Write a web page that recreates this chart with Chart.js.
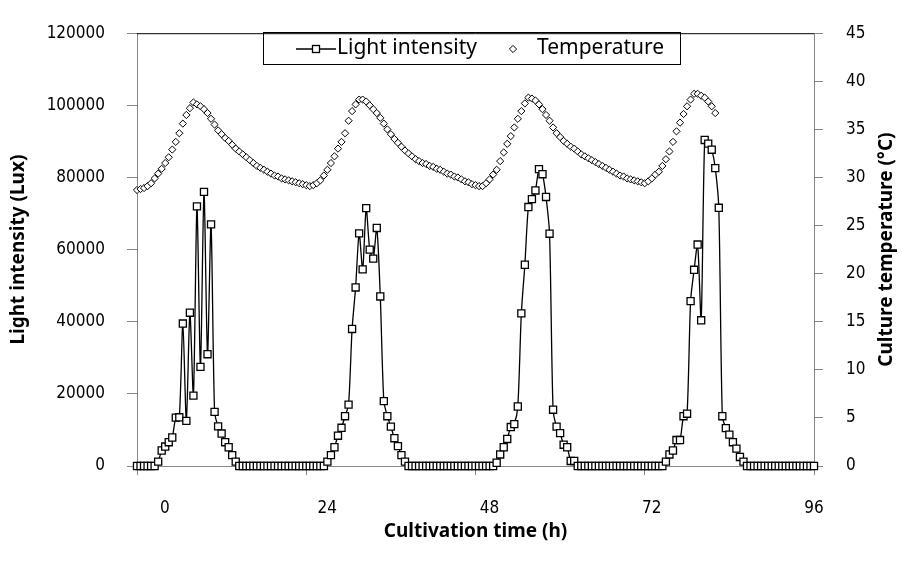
<!DOCTYPE html>
<html>
<head>
<meta charset="utf-8">
<script src="https://cdn.jsdelivr.net/npm/chart.js@4.4.1/dist/chart.umd.min.js"></script>
<style>
  html, body { margin: 0; padding: 0; background: #fff; }
  #wrap { width: 902px; height: 576px; }
</style>
</head>
<body>
<div id="wrap"><canvas id="chart" width="902" height="576"></canvas></div>
<script>
// sampling every 0.5 h from 0 to 96 h
const hours = Array.from({ length: 193 }, (_, i) => i * 0.5);

// light intensity (Lux), one value per half hour
const lightLux = [
  0, 0, 0, 0, 0, 0,
  1200, 4300, 5400, 6600, 7900, 13400, 13500, 39500, 12500, 42500, 19500, 72000,
  27500, 76000, 31000, 67000, 15000, 11000, 9000, 6600, 5200, 3000, 1200,
  0, 0, 0, 0, 0, 0, 0, 0, 0, 0, 0, 0, 0, 0, 0, 0, 0, 0, 0, 0, 0, 0, 0, 0, 0,
  1200, 3000, 5200, 8400, 10600, 13800, 17000, 38000, 49500, 64500, 54500, 71500,
  60000, 57500, 66000, 47000, 18000, 13800, 10900, 7700, 5500, 3000, 1200,
  0, 0, 0, 0, 0, 0, 0, 0, 0, 0, 0, 0, 0, 0, 0, 0, 0, 0, 0, 0, 0, 0, 0, 0, 0,
  900, 3200, 5200, 7500, 10800, 11600, 16500, 42300, 55800, 71800, 74000, 76400,
  82300, 80900, 74600, 64400, 15600, 10900, 9100, 5900, 5200, 1400, 1400,
  0, 0, 0, 0, 0, 0, 0, 0, 0, 0, 0, 0, 0, 0, 0, 0, 0, 0, 0, 0, 0, 0, 0, 0, 0,
  1200, 3200, 4300, 7200, 7200, 13800, 14500, 45700, 54400, 61400, 40400, 90400,
  89400, 87700, 82600, 71600, 13800, 10500, 8700, 6600, 4800, 2500, 1200,
  0, 0, 0, 0, 0, 0, 0, 0, 0, 0, 0, 0, 0, 0, 0, 0, 0, 0, 0, 0
];

// culture temperature (°C), one value per half hour from 0 to 82 h
const temperature = [
  28.7, 28.8, 28.9, 29.1, 29.4, 29.9, 30.4, 30.9, 31.5, 32.1, 32.9, 33.7, 34.6, 35.6, 36.5, 37.2,
  37.8, 37.6, 37.4, 37.1, 36.7, 36.1, 35.5, 34.9, 34.5, 34.1, 33.8, 33.4, 33.0, 32.7, 32.4, 32.1,
  31.8, 31.5, 31.2, 31.0, 30.8, 30.6, 30.4, 30.2, 30.1, 29.9, 29.8, 29.7, 29.6, 29.5, 29.4, 29.3,
  29.2, 29.1,
  29.2, 29.4, 29.7, 30.2, 30.8, 31.5, 32.2, 33.0, 33.7, 34.6, 35.9, 36.9, 37.6, 38.1,
  38.1, 37.9, 37.5, 37.1, 36.7, 36.2, 35.6, 35.0, 34.5, 34.0, 33.6, 33.2, 32.8, 32.5, 32.2, 31.9,
  31.7, 31.5, 31.4, 31.2, 31.1, 30.9, 30.8, 30.6, 30.4, 30.3, 30.1, 30.0, 29.8, 29.6, 29.5, 29.3,
  29.2, 29.1, 29.1,
  29.4, 29.8, 30.3, 30.8, 31.7, 32.6, 33.5, 34.3, 35.2, 36.1, 36.9, 37.7, 38.3,
  38.2, 38.0, 37.6, 37.1, 36.5, 35.9, 35.2, 34.6, 34.2, 33.8, 33.5, 33.2, 33.0, 32.7, 32.4, 32.2,
  32.0, 31.8, 31.6, 31.4, 31.2, 31.0, 30.8, 30.6, 30.4, 30.2, 30.1, 29.9, 29.8, 29.7, 29.6, 29.5,
  29.4,
  29.6, 29.9, 30.3, 30.6, 31.2, 31.9, 32.7, 33.7, 34.8, 35.7, 36.6, 37.4, 38.1, 38.7, 38.7, 38.5,
  38.3, 37.9, 37.4, 36.7
];

const timeTicks = [0, 24, 48, 72, 96];
const luxTicks = [0, 20000, 40000, 60000, 80000, 100000, 120000];
const tempTicks = [0, 5, 10, 15, 20, 25, 30, 35, 40, 45];

const axisGray = "#868686";
const tickFont = { family: "'DejaVu Sans Condensed', 'DejaVu Sans', sans-serif", size: 17 };
const titleFont = { family: "'Noto Sans', sans-serif", size: 19, weight: "bold" };
const legendFont = "21px 'Noto Sans', sans-serif";

const extras = {
    id: "extras",
    afterDraw(chart) {
        const { ctx, chartArea } = chart;
        ctx.save();
        // top frame line
        ctx.strokeStyle = "#000";
        ctx.lineWidth = 1;
        ctx.beginPath();
        ctx.moveTo(chartArea.left, chartArea.top + 0.5);
        ctx.lineTo(chartArea.right, chartArea.top + 0.5);
        ctx.stroke();

        // right axis title, reading bottom to top
        ctx.fillStyle = "#000";
        ctx.font = "bold 19px 'Noto Sans', sans-serif";
        ctx.textAlign = "center";
        ctx.textBaseline = "middle";
        ctx.translate(887, (chartArea.top + chartArea.bottom) / 2);
        ctx.rotate(-Math.PI / 2);
        ctx.fillText("Culture temperature (°C)", 0, 0);
        ctx.restore();

        // legend box
        ctx.save();
        ctx.strokeStyle = "#000";
        ctx.lineWidth = 1;
        ctx.strokeRect(263.5, 32.5, 417, 32);
        const ly = 49;
        ctx.lineWidth = 1.3;
        ctx.beginPath();
        ctx.moveTo(296, ly);
        ctx.lineTo(336, ly);
        ctx.stroke();
        ctx.fillStyle = "#fff";
        ctx.fillRect(312.5, ly - 3.5, 7, 7);
        ctx.strokeRect(312.5, ly - 3.5, 7, 7);
        ctx.lineWidth = 1;
        ctx.beginPath();
        ctx.moveTo(513, ly - 3.6);
        ctx.lineTo(516.6, ly);
        ctx.lineTo(513, ly + 3.6);
        ctx.lineTo(509.4, ly);
        ctx.closePath();
        ctx.fill();
        ctx.stroke();
        ctx.fillStyle = "#000";
        ctx.font = legendFont;
        ctx.textAlign = "left";
        ctx.textBaseline = "middle";
        ctx.fillText("Light intensity", 337, ly - 1);
        ctx.fillText("Temperature", 537, ly - 1);
        ctx.restore();
    }
};

new Chart(document.getElementById("chart"), {
    type: "line",
    data: {
        datasets: [
            {
                label: "Light intensity",
                data: lightLux.map((v, i) => ({ x: hours[i], y: v })),
                yAxisID: "y",
                xAxisID: "x",
                borderColor: "#000",
                borderWidth: 1.3,
                tension: 0.25,
                pointStyle: "rect",
                pointRadius: 5,
                pointBorderWidth: 1.3,
                pointBorderColor: "#000",
                pointBackgroundColor: "#fff",
                clip: false
            },
            {
                label: "Temperature",
                data: temperature.map((v, i) => ({ x: hours[i], y: v })),
                yAxisID: "y1",
                xAxisID: "x",
                showLine: false,
                pointStyle: "rectRot",
                pointRadius: 3.6,
                pointBorderWidth: 1,
                pointBorderColor: "#000",
                pointBackgroundColor: "#fff",
                clip: false
            }
        ]
    },
    options: {
        responsive: false,
        animation: false,
        devicePixelRatio: 1,
        layout: { padding: { top: 23, left: 0, right: 0, bottom: 0 } },
        plugins: {
            legend: { display: false },
            tooltip: { enabled: false }
        },
        scales: {
            x: {
                type: "linear",
                position: "bottom",
                weight: 0,
                min: 0,
                max: 96,
                afterBuildTicks: s => { s.ticks = timeTicks.map(v => ({ value: v })); },
                ticks: { display: false },
                grid: { display: true, drawOnChartArea: false, drawTicks: true, tickLength: 9, color: axisGray },
                border: { display: true, color: axisGray, width: 1 },
                afterFit: s => { s.height = 9; }
            },
            xLabels: {
                type: "linear",
                position: "bottom",
                weight: 1,
                min: -4.14,
                max: 96,
                afterBuildTicks: s => { s.ticks = timeTicks.map(v => ({ value: v })); },
                ticks: { font: tickFont, color: "#000", padding: 15, maxRotation: 0, minRotation: 0, autoSkip: false },
                grid: { display: false },
                border: { display: false },
                title: {
                    display: true,
                    text: "Cultivation time (h)",
                    font: titleFont,
                    color: "#000",
                    padding: { top: 0, bottom: 33 }
                },
                afterFit: s => { s.height = 101; }
            },
            y: {
                type: "linear",
                position: "left",
                min: 0,
                max: 120000,
                afterBuildTicks: s => { s.ticks = luxTicks.map(v => ({ value: v })); },
                ticks: { font: tickFont, color: "#000", padding: 22, callback: v => String(v) },
                grid: { display: true, drawOnChartArea: false, tickLength: 10, color: axisGray },
                border: { display: true, color: axisGray, width: 1 },
                title: {
                    display: true,
                    text: "Light intensity (Lux)",
                    font: titleFont,
                    color: "#000",
                    padding: { top: 7, bottom: 0 }
                },
                afterFit: s => { s.width = 137; }
            },
            y1: {
                type: "linear",
                position: "right",
                min: 0,
                max: 45,
                afterBuildTicks: s => { s.ticks = tempTicks.map(v => ({ value: v })); },
                ticks: { font: tickFont, color: "#000", padding: 23, callback: v => String(v) },
                grid: { display: true, drawOnChartArea: false, tickLength: 9, color: axisGray },
                border: { display: true, color: axisGray, width: 1 },
                afterFit: s => { s.width = 88; }
            }
        }
    },
    plugins: [extras]
});
</script>
</body>
</html>
